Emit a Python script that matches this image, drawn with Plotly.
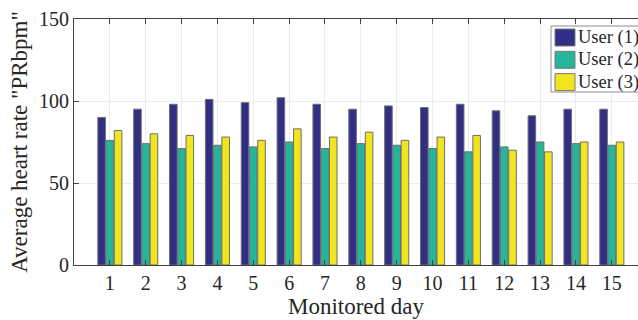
import plotly.graph_objects as go

days = list(range(1, 16))
user1 = [90, 95, 98, 101, 99, 102, 98, 95, 97, 96, 98, 94, 91, 95, 95]
user2 = [76, 74, 71, 73, 72, 75, 71, 74, 73, 71, 69, 72, 75, 74, 73]
user3 = [82, 80, 79, 78, 76, 83, 78, 81, 76, 78, 79, 70, 69, 75, 75]
names = ["User (1)", "User (2)", "User (3)"]
colors = ["#312E86", "#25B59A", "#F0E51E"]

FAM = "Liberation Serif"
TXT = "#262626"

fig = go.Figure()
for vals, nm, c in zip([user1, user2, user3], names, colors):
    fig.add_trace(go.Bar(x=days, y=vals, name=nm, showlegend=False,
                         marker=dict(color=c, line=dict(color="#6e6e6e", width=1))))

# manual legend (paper coordinates derived from pixel layout)
L, T, W, H = 74, 19, 564, 246
def px(x):
    return (x - L) / W
def py(y):
    return (T + H - y) / H

shapes = [dict(type="rect", xref="paper", yref="paper",
               x0=px(551), x1=px(660), y0=py(92), y1=py(26),
               line=dict(color="#8c8c8c", width=1), fillcolor="white", layer="above")]
annots = []
for i, (nm, c) in enumerate(zip(names, colors)):
    top = 29 + i * 22.3
    shapes.append(dict(type="rect", xref="paper", yref="paper",
                       x0=px(555), x1=px(575), y0=py(top + 17), y1=py(top),
                       line=dict(color="#7a7a7a", width=1), fillcolor=c, layer="above"))
    annots.append(dict(xref="paper", yref="paper", x=px(576), y=py(top + 8.5),
                       xanchor="left", yanchor="middle", text=nm, showarrow=False,
                       font=dict(family=FAM, size=18.5, color=TXT)))

fig.update_layout(
    width=638, height=320,
    margin=dict(l=L, r=0, t=T, b=320 - T - H),
    barmode="group", bargap=0.31, bargroupgap=0.08,
    plot_bgcolor="white", paper_bgcolor="white",
    font=dict(family=FAM, size=19, color=TXT),
    showlegend=False,
    shapes=shapes, annotations=annots,
)
fig.update_xaxes(range=[0, 15.73], tickmode="array", tickvals=days,
                 ticktext=[str(d) for d in days],
                 tickfont=dict(family=FAM, size=20, color=TXT),
                 showgrid=True, gridcolor="#ececec", gridwidth=1,
                 showline=True, linecolor="#404040", linewidth=1, mirror="ticks",
                 ticks="inside", ticklen=5, tickcolor="#404040",
                 title=dict(text="Monitored day", standoff=2,
                            font=dict(family=FAM, size=23, color=TXT)),
                 zeroline=False)
fig.update_yaxes(range=[0, 150], tickvals=[0, 50, 100, 150],
                 tickfont=dict(family=FAM, size=20, color=TXT),
                 showgrid=True, gridcolor="#ececec", gridwidth=1,
                 showline=True, linecolor="#404040", linewidth=1, mirror=False,
                 ticks="inside", ticklen=5, tickcolor="#404040",
                 title=dict(text='Average heart rate "PRbpm"', standoff=4,
                            font=dict(family=FAM, size=23, color=TXT)),
                 zeroline=False)
fig.write_html("out.html")
